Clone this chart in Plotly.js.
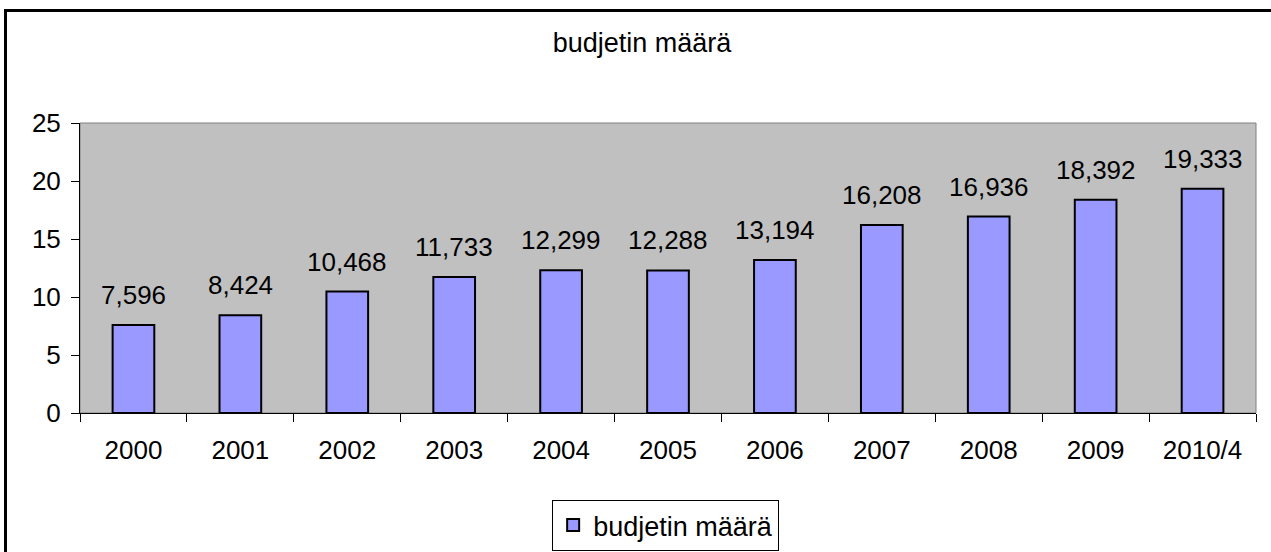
<!DOCTYPE html>
<html>
<head>
<meta charset="utf-8">
<script src="https://cdn.plot.ly/plotly-3.0.1.min.js"></script>
<style>
html,body{margin:0;padding:0;background:#fff;}
#wrap{position:relative;width:1271px;height:552px;overflow:hidden;}
#chart{position:absolute;left:0;top:0;width:1271px;height:552px;}
#frame{position:absolute;left:4px;top:9px;width:1300px;height:600px;border-left:3px solid #000;border-top:3px solid #000;pointer-events:none;}
</style>
</head>
<body>
<div id="wrap"><div id="chart"></div><div id="frame"></div></div>
<script>
const categories = ['2000','2001','2002','2003','2004','2005','2006','2007','2008','2009','2010/4'];
const values = [7.596, 8.424, 10.468, 11.733, 12.299, 12.288, 13.194, 16.208, 16.936, 18.392, 19.333];
const yTicks = [0, 5, 10, 15, 20, 25];
const seriesName = 'budjetin määrä';
const chartTitle = 'budjetin määrä';

const fmt = v => v.toFixed(3).replace('.', ',');
const font = 'Arial, "Liberation Sans", sans-serif';

const trace = {
  type: 'bar',
  x: categories,
  y: values,
  name: seriesName,
  marker: {color: '#9999ff', line: {color: '#000', width: 2}},
  hoverinfo: 'none',
  showlegend: true
};

const annotations = categories.map((c, i) => ({
  x: i, y: values[i], xref: 'x', yref: 'y',
  text: fmt(values[i]), showarrow: false,
  yanchor: 'bottom', yshift: 13,
  font: {family: font, size: 26, color: '#000'}
}));

const layout = {
  width: 1271, height: 552,
  margin: {l: 80, r: 15, t: 123, b: 139, autoexpand: false},
  paper_bgcolor: 'rgba(0,0,0,0)',
  plot_bgcolor: '#c0c0c0',
  font: {family: font, size: 26, color: '#000'},
  title: {text: chartTitle, x: 642/1271, xref: 'container', xanchor: 'center',
          y: 1 - 43/552, yref: 'container', yanchor: 'middle',
          font: {family: font, size: 27, color: '#000'}},
  bargap: 0.61,
  xaxis: {
    type: 'category', categoryorder: 'array', categoryarray: categories,
    range: [-0.5, categories.length - 0.5], autorange: false, automargin: false,
    showline: true, linecolor: '#000', linewidth: 1,
    ticks: 'outside', tickson: 'boundaries', ticklen: 8, tickcolor: '#000',
    ticklabelstandoff: 14, tickangle: 0, showgrid: false, zeroline: false,
    tickfont: {family: font, size: 26, color: '#000'}
  },
  yaxis: {
    range: [0, 25], autorange: false, automargin: false,
    tickvals: yTicks, ticktext: yTicks.map(String),
    showline: true, linecolor: '#000', linewidth: 1,
    ticks: 'outside', ticklen: 8, tickcolor: '#000',
    ticklabelstandoff: 5, showgrid: false, zeroline: false,
    tickfont: {family: font, size: 26, color: '#000'}
  },
  shapes: [{type: 'rect', xref: 'paper', yref: 'paper', x0: 0, x1: 1, y0: 0, y1: 1,
            line: {color: '#808080', width: 1}, layer: 'below'}],
  showlegend: true,
  legend: {orientation: 'h', x: 0.498, xanchor: 'center', y: -0.30, yanchor: 'top',
           bgcolor: '#fff', bordercolor: '#000', borderwidth: 1,
           font: {family: font, size: 27, color: '#000'}},
  annotations: annotations
};

Plotly.newPlot('chart', [trace], layout, {displayModeBar: false, staticPlot: true});
</script>
</body>
</html>
